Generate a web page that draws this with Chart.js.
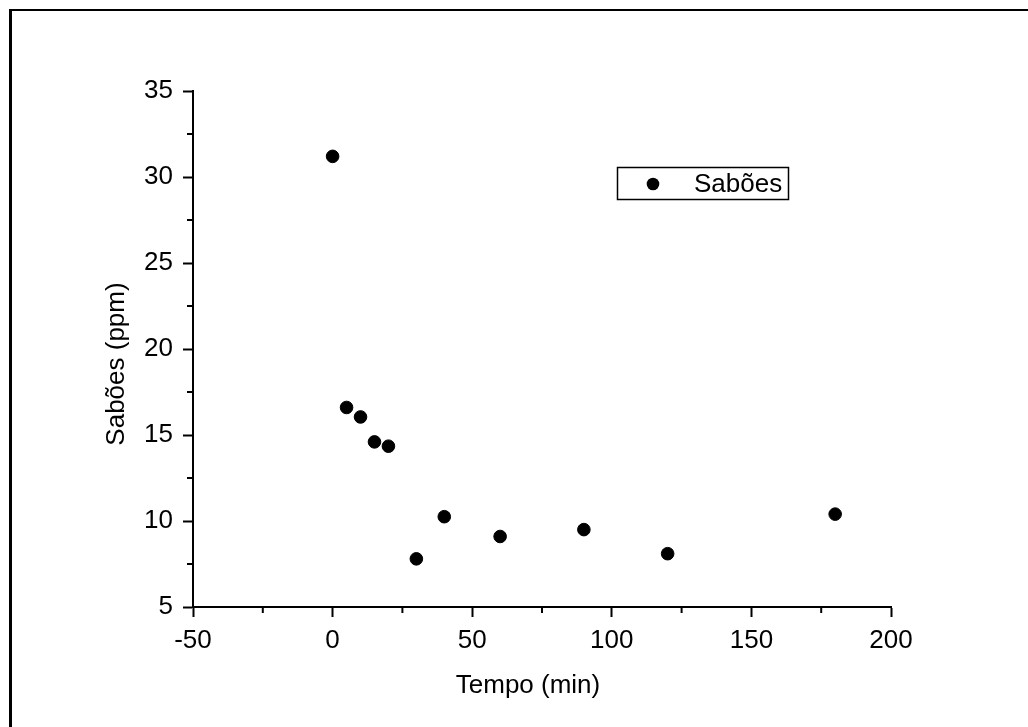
<!DOCTYPE html>
<html>
<head>
<meta charset="utf-8">
<script src="https://cdn.jsdelivr.net/npm/chart.js@4"></script>
<style>
  html, body { margin: 0; padding: 0; background: #fff; }
  #wrap { position: relative; width: 1028px; height: 727px; }
  #frame {
    position: absolute; left: 9px; top: 9px; right: -5px; bottom: -5px;
    border-top: 2px solid #000; border-left: 3px solid #000;
    pointer-events: none;
  }
  canvas { position: absolute; left: 0; top: 0; }
</style>
</head>
<body>
<div id="wrap">
  <canvas id="myChart" width="1028" height="727"></canvas>
  <div id="frame"></div>
</div>
<script>
// tempo (min) e sabões (ppm)
const tempo = [0, 5, 10, 15, 20, 30, 40, 60, 90, 120, 180];
const saboes = [31.2, 16.6, 16.05, 14.6, 14.35, 7.8, 10.25, 9.1, 9.5, 8.1, 10.4];
const serieNome = 'Sabões';
const xTitulo = 'Tempo (min)';
const yTitulo = 'Sabões (ppm)';
const xTicks = [-50, 0, 50, 100, 150, 200];
const yTicks = [5, 10, 15, 20, 25, 30, 35];

const fonte = "'Liberation Sans', Arial, sans-serif";

// ticks menores entre os maiores
const minorTicks = {
  id: 'minorTicks',
  afterDraw(chart) {
    const ctx = chart.ctx;
    const xs = chart.scales.x, ys = chart.scales.y;
    ctx.save();
    ctx.strokeStyle = '#000';
    ctx.lineWidth = 2;
    for (let i = 0; i < xTicks.length - 1; i++) {
      const px = xs.getPixelForValue((xTicks[i] + xTicks[i + 1]) / 2);
      ctx.beginPath();
      ctx.moveTo(px, xs.top);
      ctx.lineTo(px, xs.top + 6);
      ctx.stroke();
    }
    for (let i = 0; i < yTicks.length - 1; i++) {
      const py = ys.getPixelForValue((yTicks[i] + yTicks[i + 1]) / 2);
      ctx.beginPath();
      ctx.moveTo(ys.right, py);
      ctx.lineTo(ys.right - 6, py);
      ctx.stroke();
    }
    ctx.restore();
  }
};

// títulos dos eixos (um pouco fora do centro, como no Origin)
const axisTitles = {
  id: 'axisTitles',
  afterDraw(chart) {
    const ctx = chart.ctx;
    ctx.save();
    ctx.fillStyle = '#000';
    ctx.font = '26px ' + fonte;
    ctx.textAlign = 'center';
    ctx.textBaseline = 'middle';
    ctx.fillText(xTitulo, 528, 686);
    ctx.translate(117, 364);
    ctx.rotate(-Math.PI / 2);
    ctx.fillText(yTitulo, 0, 0);
    ctx.restore();
  }
};

// legenda com caixa, como no original
const boxLegend = {
  id: 'boxLegend',
  afterDraw(chart) {
    const ctx = chart.ctx;
    ctx.save();
    ctx.strokeStyle = '#000';
    ctx.lineWidth = 1.5;
    ctx.strokeRect(617.5, 167.5, 171, 32);
    ctx.fillStyle = '#000';
    ctx.beginPath();
    ctx.arc(653, 184, 6.3, 0, Math.PI * 2);
    ctx.fill();
    ctx.font = '26px ' + fonte;
    ctx.textBaseline = 'middle';
    ctx.fillText(chart.data.datasets[0].label, 694, 185);
    ctx.restore();
  }
};

new Chart(document.getElementById('myChart'), {
  type: 'scatter',
  data: {
    datasets: [{
      label: serieNome,
      data: tempo.map((t, i) => ({ x: t, y: saboes[i] })),
      backgroundColor: '#000',
      borderColor: '#000',
      pointRadius: 6.3,
      pointHoverRadius: 6.3
    }]
  },
  options: {
    responsive: false,
    animation: false,
    events: [],
    layout: { padding: { left: 0, top: 91, right: 137, bottom: 0 } },
    plugins: { legend: { display: false }, tooltip: { enabled: false } },
    scales: {
      x: {
        type: 'linear',
        min: -50, max: 200,
        afterFit(scale) { scale.height = 120; },
        afterBuildTicks(scale) { scale.ticks = xTicks.map(v => ({ value: v })); },
        border: { display: true, color: '#000', width: 2 },
        grid: { drawOnChartArea: false, drawTicks: true, tickLength: 10, tickColor: '#000', tickWidth: 2 },
        ticks: { color: '#000', font: { family: fonte, size: 26 }, padding: 8, maxRotation: 0 }
      },
      y: {
        type: 'linear',
        min: 5, max: 35,
        afterFit(scale) { scale.width = 193; },
        afterBuildTicks(scale) { scale.ticks = yTicks.map(v => ({ value: v })); },
        border: { display: true, color: '#000', width: 2 },
        grid: { drawOnChartArea: false, drawTicks: true, tickLength: 10, tickColor: '#000', tickWidth: 2 },
        ticks: { color: '#000', font: { family: fonte, size: 26 }, padding: 10 }
      }
    }
  },
  plugins: [minorTicks, axisTitles, boxLegend]
});
</script>
</body>
</html>
